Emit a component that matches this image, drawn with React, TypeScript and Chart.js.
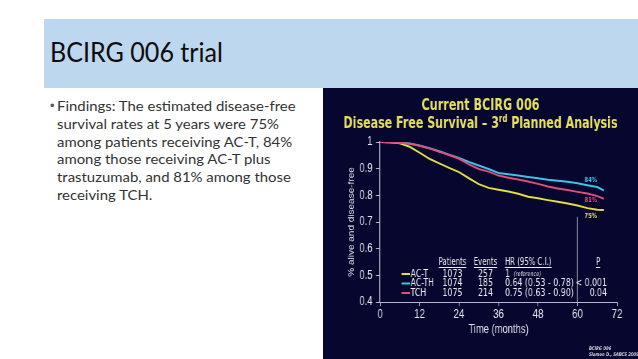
import React, { useEffect, useLayoutEffect, useRef } from "react";
import { Chart, registerables } from "chart.js";

Chart.register(...registerables);

// ---------------- data ----------------
const months = [0, 3, 6, 9, 12, 15, 18, 21, 24, 27, 30, 33, 36, 39, 42, 45, 48, 51, 54, 57, 60, 63, 66, 68];
const actValues = [1, 0.999, 0.995, 0.982, 0.96, 0.937, 0.92, 0.903, 0.887, 0.864, 0.842, 0.828, 0.821, 0.814, 0.806, 0.795, 0.789, 0.782, 0.776, 0.769, 0.762, 0.752, 0.746, 0.745];
const acthValues = [1, 0.999, 0.997, 0.994, 0.987, 0.977, 0.965, 0.952, 0.94, 0.925, 0.912, 0.899, 0.884, 0.879, 0.874, 0.869, 0.864, 0.858, 0.855, 0.851, 0.845, 0.838, 0.831, 0.818];
const tchValues = [1, 0.999, 0.997, 0.993, 0.986, 0.976, 0.963, 0.951, 0.937, 0.916, 0.899, 0.889, 0.874, 0.866, 0.859, 0.852, 0.843, 0.833, 0.826, 0.82, 0.813, 0.807, 0.797, 0.787];

const xTicks = [0, 12, 24, 36, 48, 60, 72];
const yTicks = [0.4, 0.5, 0.6, 0.7, 0.8, 0.9, 1];

const seriesNames = ["AC-T", "AC-TH", "TCH"];
const patientCounts = ["1073", "1074", "1075"];
const eventCounts = ["257", "185", "214"];
const hrLabels = ["1", "0.64 (0.53 - 0.78)", "0.75 (0.63 - 0.90)"];
const pLabels = ["", "< 0.001", "0.04"];
const fiveYearLabels = ["75%", "84%", "81%"];
const fiveYearLabelMonth = 64;
const refLineMonth = 60;
const refLineTop = 0.72;

const slideTitle = "BCIRG 006 trial";
const bulletLines = [
  "Findings: The estimated disease-free",
  "survival rates at 5 years were 75%",
  "among patients receiving AC-T, 84%",
  "among those receiving AC-T plus",
  "trastuzumab, and 81% among those",
  "receiving TCH.",
];

// ---------------- styles ----------------
const COLORS = ["#e2e03c", "#3ec4e6", "#de4f79"]; // AC-T, AC-TH, TCH
const NAVY = "#06062f";
const TITLE_YELLOW = "#e6e15c";
const AXIS_TEXT = "#e6e6ee";
const AXIS_LINE = "#b8b8c8";
const CANVAS_FONT = '"DejaVu Sans", Verdana, sans-serif';
const AXIS_FONT = '"Liberation Sans", Arial, sans-serif';

// the panel is drawn on a wider canvas and shown horizontally condensed
const SQ = 0.75;
const PANEL_W = 315;
const PANEL_H = 271;
const CANVAS_W = Math.round(PANEL_W / SQ);
const ix = (d: number) => d / SQ; // display px -> canvas px (horizontal)

type TOpts = {
  size: number;
  color: string;
  align?: "left" | "center" | "right";
  sx?: number;
  weight?: string;
  style?: string;
};

function drawText(ctx: CanvasRenderingContext2D, text: string, x: number, y: number, o: TOpts) {
  const sx = o.sx ?? 1;
  ctx.save();
  ctx.font = `${o.style ?? "normal"} ${o.weight ?? "normal"} ${o.size}px ${CANVAS_FONT}`;
  ctx.fillStyle = o.color;
  ctx.textBaseline = "middle";
  ctx.textAlign = "left";
  const w = ctx.measureText(text).width * sx;
  const x0 = o.align === "center" ? x - w / 2 : o.align === "right" ? x - w : x;
  ctx.translate(x0, y);
  ctx.scale(sx, 1);
  ctx.fillText(text, 0, 0);
  ctx.restore();
  return { x0, w };
}

const overlayPlugin = {
  id: "overlay",
  afterDatasetsDraw(chart: any) {
    const { ctx, chartArea, scales } = chart;
    const xs = scales.x;
    const ys = scales.y;
    const L = chartArea.left;
    const B = chartArea.bottom;

    // reference vertical line at 60 months
    ctx.save();
    ctx.strokeStyle = "#8a8aa0";
    ctx.lineWidth = 1.3;
    const vx = xs.getPixelForValue(refLineMonth);
    ctx.beginPath();
    ctx.moveTo(vx, ys.getPixelForValue(refLineTop));
    ctx.lineTo(vx, ys.getPixelForValue(0.4));
    ctx.stroke();
    ctx.restore();

    // chart title (2 lines)
    const cx = ix(157.5);
    ctx.save();
    ctx.font = `bold 16px ${CANVAS_FONT}`;
    const l1 = "Current BCIRG 006";
    const w1 = ctx.measureText(l1).width;
    const tw1 = ix(118);
    ctx.fillStyle = TITLE_YELLOW;
    ctx.textBaseline = "alphabetic";
    ctx.translate(cx - tw1 / 2, 22);
    ctx.scale(tw1 / w1, 1);
    ctx.fillText(l1, 0, 0);
    ctx.restore();

    ctx.save();
    const segA = "Disease Free Survival \u2013 3";
    const segB = "rd";
    const segC = " Planned Analysis";
    ctx.font = `bold 16px ${CANVAS_FONT}`;
    const wA = ctx.measureText(segA).width;
    const wC = ctx.measureText(segC).width;
    ctx.font = `bold 10px ${CANVAS_FONT}`;
    const wB = ctx.measureText(segB).width;
    const tw2 = ix(274);
    ctx.fillStyle = TITLE_YELLOW;
    ctx.textBaseline = "alphabetic";
    ctx.translate(cx - tw2 / 2, 39.5);
    ctx.scale(tw2 / (wA + wB + wC), 1);
    ctx.font = `bold 16px ${CANVAS_FONT}`;
    ctx.fillText(segA, 0, 0);
    ctx.font = `bold 10px ${CANVAS_FONT}`;
    ctx.fillText(segB, wA, -6);
    ctx.font = `bold 16px ${CANVAS_FONT}`;
    ctx.fillText(segC, wA + wB, 0);
    ctx.restore();

    // 5-year percentage labels near curve ends
    const seriesVals = [actValues, acthValues, tchValues];
    const labelOffsets = [8, -6, 6];
    const idx = months.findIndex((m) => m >= fiveYearLabelMonth);
    seriesVals.forEach((vals, i) => {
      const m0 = months[idx - 1], m1 = months[idx];
      const t = (fiveYearLabelMonth - m0) / (m1 - m0);
      const v = vals[idx - 1] + (vals[idx] - vals[idx - 1]) * t;
      const px = xs.getPixelForValue(fiveYearLabelMonth);
      const py = ys.getPixelForValue(v) + labelOffsets[i];
      drawText(ctx, fiveYearLabels[i], px, py, { size: 7, color: COLORS[i], align: "center", weight: "bold" });
    });

    // legend table
    const tOpts = { size: 11, color: "#ececf2", sx: 0.95 };
    const hOpts = { size: 10.5, color: "#ececf2", sx: 0.88 };
    const headerY = B - 39.5;
    const rowYs = [B - 28, B - 18.5, B - 9];
    const colPat = L + ix(72.5);
    const colEv = L + ix(105.5);
    const colHR = L + ix(125);
    const colP = L + ix(218);
    const colPRight = L + ix(227);

    const underline = (x0: number, w: number, y: number) => {
      ctx.save();
      ctx.strokeStyle = "#ececf2";
      ctx.lineWidth = 1;
      ctx.beginPath();
      ctx.moveTo(x0, Math.round(y) + 0.5);
      ctx.lineTo(x0 + w, Math.round(y) + 0.5);
      ctx.stroke();
      ctx.restore();
    };
    let r = drawText(ctx, "Patients", colPat, headerY, { ...hOpts, align: "center" });
    underline(r.x0, r.w, headerY + 4);
    r = drawText(ctx, "Events", colEv, headerY, { ...hOpts, align: "center" });
    underline(r.x0, r.w, headerY + 4);
    r = drawText(ctx, "HR (95% C.I.)", colHR, headerY, { ...hOpts, align: "left" });
    underline(r.x0, r.w, headerY + 4);
    r = drawText(ctx, "P", colP, headerY, { ...hOpts, align: "center" });
    underline(r.x0, r.w, headerY + 4);

    seriesNames.forEach((name, i) => {
      const y = rowYs[i];
      ctx.save();
      ctx.strokeStyle = COLORS[i];
      ctx.lineWidth = 2;
      ctx.beginPath();
      ctx.moveTo(L + ix(21.5), y);
      ctx.lineTo(L + ix(30), y);
      ctx.stroke();
      ctx.restore();
      drawText(ctx, name, L + ix(30.5), y, { ...tOpts, align: "left" });
      drawText(ctx, patientCounts[i], colPat, y, { ...tOpts, align: "center" });
      drawText(ctx, eventCounts[i], colEv, y, { ...tOpts, align: "center" });
      const h = drawText(ctx, hrLabels[i], colHR, y, { ...tOpts, align: "left" });
      if (i === 0) {
        drawText(ctx, "(reference)", h.x0 + h.w + 5, y + 0.5, { size: 6.5, color: "#ececf2", style: "italic" });
      }
      if (pLabels[i]) drawText(ctx, pLabels[i], colPRight, y, { ...tOpts, align: "right" });
    });

    // citation
    drawText(ctx, "BCIRG 006", ix(266), 261, { size: 5, color: "#d4d4dc", style: "italic", weight: "bold" });
    drawText(ctx, "Slamon D., SABCS 2009", ix(266), 266.5, { size: 5, color: "#d4d4dc", style: "italic", weight: "bold" });
  },
};

export default function App() {
  const canvasRef = useRef<HTMLCanvasElement>(null);
  const titleRef = useRef<HTMLSpanElement>(null);
  const bodyRef = useRef<HTMLDivElement>(null);
  const firstLineRef = useRef<HTMLSpanElement>(null);

  useLayoutEffect(() => {
    const fit = () => {
      const t = titleRef.current;
      if (t && t.offsetWidth) t.style.transform = `scaleX(${173 / t.offsetWidth})`;
      const f = firstLineRef.current;
      const b = bodyRef.current;
      if (f && b && f.offsetWidth) b.style.transform = `scaleX(${238.5 / f.offsetWidth})`;
    };
    fit();
    (document as any).fonts?.ready?.then(fit);
  }, []);

  useEffect(() => {
    const canvas = canvasRef.current;
    if (!canvas) return;
    const mk = (vals: number[]) => months.map((m, i) => ({ x: m, y: vals[i] }));
    const chart = new Chart(canvas, {
      type: "line",
      data: {
        datasets: [
          { label: seriesNames[2], data: mk(tchValues), borderColor: COLORS[2], borderWidth: 2, pointRadius: 0, tension: 0, fill: false },
          { label: seriesNames[1], data: mk(acthValues), borderColor: COLORS[1], borderWidth: 2, pointRadius: 0, tension: 0, fill: false },
          { label: seriesNames[0], data: mk(actValues), borderColor: COLORS[0], borderWidth: 2, pointRadius: 0, tension: 0, fill: false },
        ],
      },
      options: {
        responsive: false,
        animation: false,
        devicePixelRatio: 1,
        layout: { padding: { top: 54, right: ix(21), left: 0, bottom: 0 } },
        plugins: { legend: { display: false }, tooltip: { enabled: false }, title: { display: false } },
        scales: {
          x: {
            type: "linear",
            min: 0,
            max: 72,
            afterBuildTicks: (s: any) => {
              s.ticks = xTicks.map((v) => ({ value: v }));
            },
            afterFit: (s: any) => {
              s.height = 57;
            },
            ticks: { color: AXIS_TEXT, font: { family: AXIS_FONT, size: 13 }, padding: 1, maxRotation: 0, autoSkip: false },
            grid: { display: true, drawOnChartArea: false, drawTicks: true, tickLength: 4, color: AXIS_LINE },
            border: { display: true, color: AXIS_LINE, width: 1 },
            title: {
              display: true,
              text: "Time (months)",
              color: AXIS_TEXT,
              font: { family: AXIS_FONT, size: 12.5 },
              padding: { top: 0, bottom: 21.5 },
            },
          },
          y: {
            type: "linear",
            min: 0.4,
            max: 1,
            afterBuildTicks: (s: any) => {
              s.ticks = yTicks.map((v) => ({ value: v }));
            },
            afterFit: (s: any) => {
              s.width = ix(57);
            },
            ticks: {
              color: AXIS_TEXT,
              font: { family: AXIS_FONT, size: 12.5 },
              padding: ix(3.5),
              callback: (v: any) => (Math.abs(v - 1) < 1e-9 ? "1" : Number(v).toFixed(1)),
            },
            grid: { display: true, drawOnChartArea: false, drawTicks: true, tickLength: ix(4), color: AXIS_LINE },
            border: { display: true, color: AXIS_LINE, width: 1.3 },
            title: {
              display: true,
              text: "% alive and disease-free",
              color: AXIS_TEXT,
              font: { family: AXIS_FONT, size: 10 },
              padding: { top: ix(29) - 6, bottom: 0 },
            },
          },
        },
      },
      plugins: [overlayPlugin],
    } as any);
    return () => chart.destroy();
  }, []);

  return (
    <div
      style={{
        position: "absolute",
        left: 0,
        top: 0,
        width: 638,
        height: 359,
        overflow: "hidden",
        background: "#ffffff",
      }}
    >
      <div style={{ position: "absolute", left: 44, top: 19, width: 594, height: 69, background: "#bdd7ee" }} />
      <span
        ref={titleRef}
        style={{
          position: "absolute",
          left: 50,
          top: 37.2,
          fontFamily: "Lato, 'Open Sans', sans-serif",
          fontSize: 26.4,
          lineHeight: 1.2,
          color: "#0d0d0d",
          whiteSpace: "nowrap",
          transformOrigin: "0 0",
        }}
      >
        {slideTitle}
      </span>
      <span
        style={{
          position: "absolute",
          left: 50,
          top: 97.2,
          fontFamily: "Arial, 'Liberation Sans', sans-serif",
          fontSize: 13,
          lineHeight: "17.7px",
          color: "#555",
        }}
      >
        •
      </span>
      <div
        ref={bodyRef}
        style={{
          position: "absolute",
          left: 57.3,
          top: 97.2,
          fontFamily: "Lato, 'Open Sans', sans-serif",
          fontSize: 14,
          lineHeight: "17.7px",
          color: "#333333",
          transformOrigin: "0 0",
        }}
      >
        {bulletLines.map((line, i) => (
          <div key={i} style={{ whiteSpace: "nowrap" }}>
            <span ref={i === 0 ? firstLineRef : undefined} style={{ display: "inline-block" }}>
              {line}
            </span>
          </div>
        ))}
      </div>
      <div
        style={{
          position: "absolute",
          left: 323,
          top: 88,
          width: PANEL_W,
          height: PANEL_H,
          background: NAVY,
          overflow: "hidden",
        }}
      >
        <canvas
          ref={canvasRef}
          width={CANVAS_W}
          height={PANEL_H}
          style={{ display: "block", width: PANEL_W, height: PANEL_H }}
        />
      </div>
    </div>
  );
}
